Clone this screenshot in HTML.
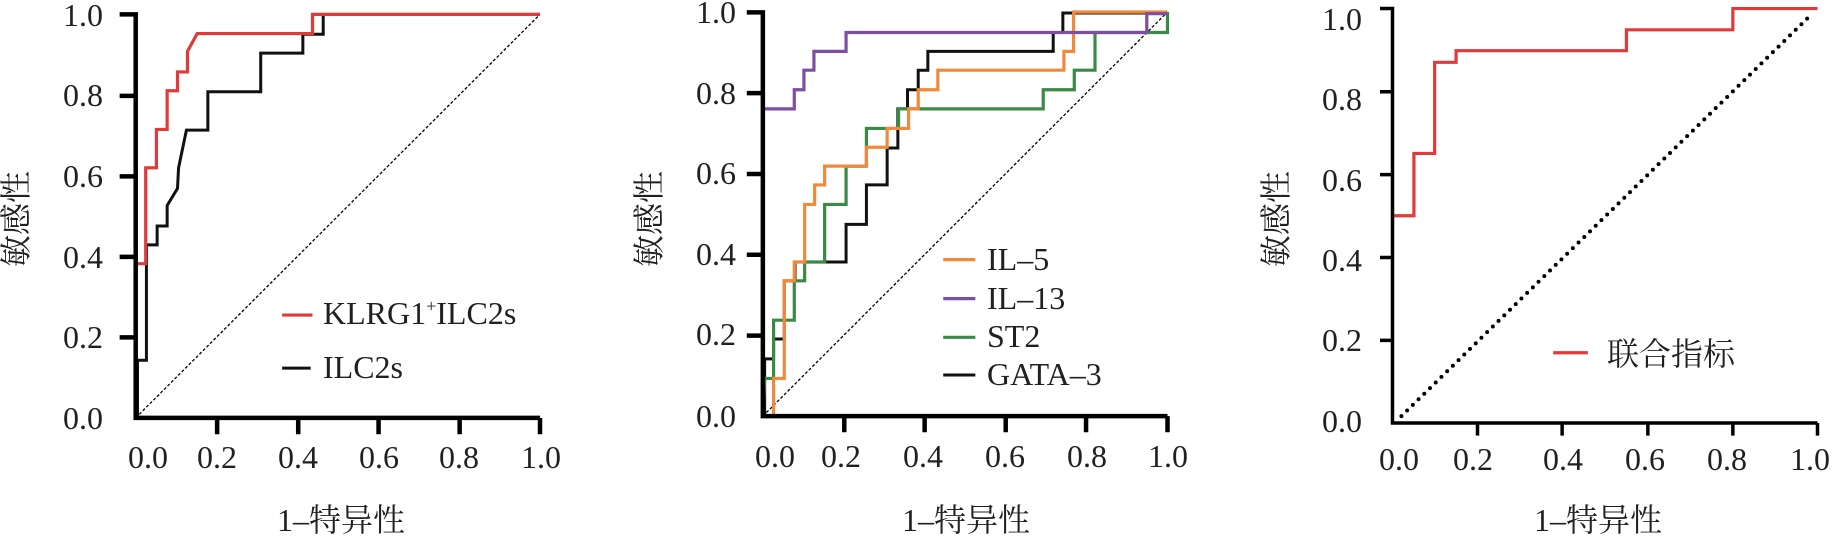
<!DOCTYPE html>
<html><head><meta charset="utf-8"><style>
html,body{margin:0;padding:0;background:#fff;}
svg{display:block;}
svg text{font-family:"Liberation Serif","Times New Roman",Times,"Noto Serif CJK SC",serif;fill:#231f20;}
</style></head><body>
<svg width="1840" height="537" viewBox="0 0 1840 537" xmlns="http://www.w3.org/2000/svg">
<!-- Panel 1 -->
<g transform="translate(0,0) scale(0.35714,0.34247)" fill="none" stroke-linejoin="miter">
  <line x1="380" y1="1220" x2="1512" y2="42" stroke="#000" stroke-width="1.3" stroke-dasharray="3 2" vector-effect="non-scaling-stroke"/>
  <polyline points="385,1220 385,1052 410,1052 410,715 440,715 440,660 468,660 468,600 497,550 500,490 522,380 582,380 582,268 730,268 730,155 848,155 848,100 905,100 905,42 1512,42" stroke="#111" stroke-width="3" vector-effect="non-scaling-stroke"/>
  <polyline points="380,1220 380,770 408,770 408,490 438,490 438,378 468,378 468,265 497,265 497,210 525,210 525,150 552,98 875,98 875,42 1512,42" stroke="#e03a3a" stroke-width="3.2" vector-effect="non-scaling-stroke"/>
  <polyline points="335,42 380,42 380,1220 1512,1220" stroke="#000" stroke-width="4.5" vector-effect="non-scaling-stroke"/>
  <path d="M335,280 H380 M335,515 H380 M335,750 H380 M335,985 H380 M608,1220 V1268 M835,1220 V1268 M1060,1220 V1268 M1287,1220 V1268 M1512,1220 V1268" stroke="#000" stroke-width="4.5" vector-effect="non-scaling-stroke"/>
  <line x1="790" y1="920" x2="875" y2="920" stroke="#e03a3a" stroke-width="3.2" vector-effect="non-scaling-stroke"/>
  <line x1="790" y1="1075" x2="870" y2="1075" stroke="#111" stroke-width="3" vector-effect="non-scaling-stroke"/>
</g>
<g font-size="32" text-anchor="end">
  <text x="103" y="26">1.0</text><text x="103" y="106">0.8</text><text x="103" y="187">0.6</text>
  <text x="103" y="268">0.4</text><text x="103" y="348">0.2</text><text x="103" y="429">0.0</text>
</g>
<g font-size="32" text-anchor="middle">
  <text x="148" y="468">0.0</text><text x="217" y="468">0.2</text><text x="298" y="468">0.4</text>
  <text x="379" y="468">0.6</text><text x="459" y="468">0.8</text><text x="541" y="468">1.0</text>
</g>
<text x="323" y="324" font-size="32">KLRG1<tspan font-size="18" dy="-12">+</tspan><tspan dy="12">ILC2s</tspan></text>
<text x="323" y="378" font-size="32">ILC2s</text>
<text x="341" y="531" font-size="32" text-anchor="middle">1–特异性</text>
<text transform="translate(27,219) rotate(-90)" font-size="32" text-anchor="middle">敏感性</text>

<!-- Panel 2 -->
<g transform="translate(620,0) scale(0.35714,0.34247)" fill="none">
  <line x1="400" y1="1215" x2="1533" y2="35" stroke="#000" stroke-width="1.3" stroke-dasharray="3 2" vector-effect="non-scaling-stroke"/>
  <polyline points="405,1215 405,1048 430,1048 430,990 460,990 460,820 490,820 490,765 580,765 633,765 633,655 690,655 690,540 748,540 748,432 778,432 778,318 805,318 805,262 835,262 835,205 862,205 862,150 1213,150 1213,95 1240,95 1240,38 1533,38" stroke="#111" stroke-width="3" vector-effect="non-scaling-stroke"/>
  <polyline points="400,1215 405,1105 430,1105 430,935 488,935 488,820 517,820 517,765 573,765 573,597 633,597 633,485 690,485 690,375 780,375 780,318 1185,318 1185,262 1272,262 1272,205 1330,205 1330,95 1533,95 1533,35" stroke="#3a8a45" stroke-width="3.2" vector-effect="non-scaling-stroke"/>
  <polyline points="400,1215 430,1215 430,1105 460,1105 460,820 488,820 488,765 517,765 517,597 545,597 545,540 573,540 573,485 690,485 690,430 748,430 748,375 808,375 808,318 835,318 835,262 890,262 890,205 1243,205 1243,150 1270,150 1270,35 1533,35" stroke="#f08a3a" stroke-width="3.2" vector-effect="non-scaling-stroke"/>
  <polyline points="400,1215 400,318 488,318 488,262 515,262 515,205 543,205 543,150 633,150 633,95 1475,95 1475,40 1533,40" stroke="#7d4fa3" stroke-width="3.2" vector-effect="non-scaling-stroke"/>
  <polyline points="355,36 400,36 400,1215 1533,1215" stroke="#000" stroke-width="4.5" vector-effect="non-scaling-stroke"/>
  <path d="M355,272 H400 M355,508 H400 M355,744 H400 M355,980 H400 M628,1215 V1262 M853,1215 V1262 M1080,1215 V1262 M1305,1215 V1262 M1533,1215 V1262" stroke="#000" stroke-width="4.5" vector-effect="non-scaling-stroke"/>
  <line x1="905" y1="758" x2="995" y2="758" stroke="#f08a3a" stroke-width="3.2" vector-effect="non-scaling-stroke"/>
  <line x1="905" y1="872" x2="995" y2="872" stroke="#7d4fa3" stroke-width="3.2" vector-effect="non-scaling-stroke"/>
  <line x1="905" y1="985" x2="995" y2="985" stroke="#3a8a45" stroke-width="3.2" vector-effect="non-scaling-stroke"/>
  <line x1="905" y1="1095" x2="995" y2="1095" stroke="#111" stroke-width="3" vector-effect="non-scaling-stroke"/>
</g>
<g font-size="32" text-anchor="end">
  <text x="736" y="23">1.0</text><text x="736" y="104">0.8</text><text x="736" y="184">0.6</text>
  <text x="736" y="265">0.4</text><text x="736" y="345">0.2</text><text x="736" y="427">0.0</text>
</g>
<g font-size="32" text-anchor="middle">
  <text x="775" y="467">0.0</text><text x="841" y="467">0.2</text><text x="923" y="467">0.4</text>
  <text x="1005" y="467">0.6</text><text x="1087" y="467">0.8</text><text x="1168" y="467">1.0</text>
</g>
<g font-size="32">
  <text x="987" y="270">IL–5</text><text x="987" y="309">IL–13</text>
  <text x="987" y="347">ST2</text><text x="987" y="385">GATA–3</text>
</g>
<text x="966" y="531" font-size="32" text-anchor="middle">1–特异性</text>
<text transform="translate(660,219) rotate(-90)" font-size="32" text-anchor="middle">敏感性</text>

<!-- Panel 3 -->
<g transform="translate(1280,0) scale(0.35714,0.34247)" fill="none">
  <line x1="340" y1="1215" x2="1490" y2="40" stroke="#000" stroke-width="4" stroke-linecap="round" stroke-dasharray="0 8" vector-effect="non-scaling-stroke"/>
  <polyline points="318,630 375,630 375,448 433,448 433,182 493,182 493,148 970,148 970,87 1268,87 1268,25 1505,25" stroke="#e03a3a" stroke-width="3.2" vector-effect="non-scaling-stroke"/>
  <polyline points="280,25 315,25 315,1235 1505,1235" stroke="#000" stroke-width="3.5" vector-effect="non-scaling-stroke"/>
  <path d="M280,268 H315 M280,510 H315 M280,752 H315 M280,994 H315 M553,1235 V1272 M790,1235 V1272 M1030,1235 V1272 M1268,1235 V1272 M1505,1235 V1272" stroke="#000" stroke-width="3.5" vector-effect="non-scaling-stroke"/>
  <line x1="765" y1="1030" x2="862" y2="1030" stroke="#e03a3a" stroke-width="3.2" vector-effect="non-scaling-stroke"/>
</g>
<g font-size="32" text-anchor="end">
  <text x="1362" y="30">1.0</text><text x="1362" y="110">0.8</text><text x="1362" y="191">0.6</text>
  <text x="1362" y="271">0.4</text><text x="1362" y="351">0.2</text><text x="1362" y="432">0.0</text>
</g>
<g font-size="32" text-anchor="middle">
  <text x="1399" y="470">0.0</text><text x="1473" y="470">0.2</text><text x="1563" y="470">0.4</text>
  <text x="1645" y="470">0.6</text><text x="1727" y="470">0.8</text><text x="1810" y="470">1.0</text>
</g>
<text x="1607" y="365" font-size="32">联合指标</text>
<text x="1598" y="531" font-size="32" text-anchor="middle">1–特异性</text>
<text transform="translate(1287,219) rotate(-90)" font-size="32" text-anchor="middle">敏感性</text>
</svg>
</body></html>
